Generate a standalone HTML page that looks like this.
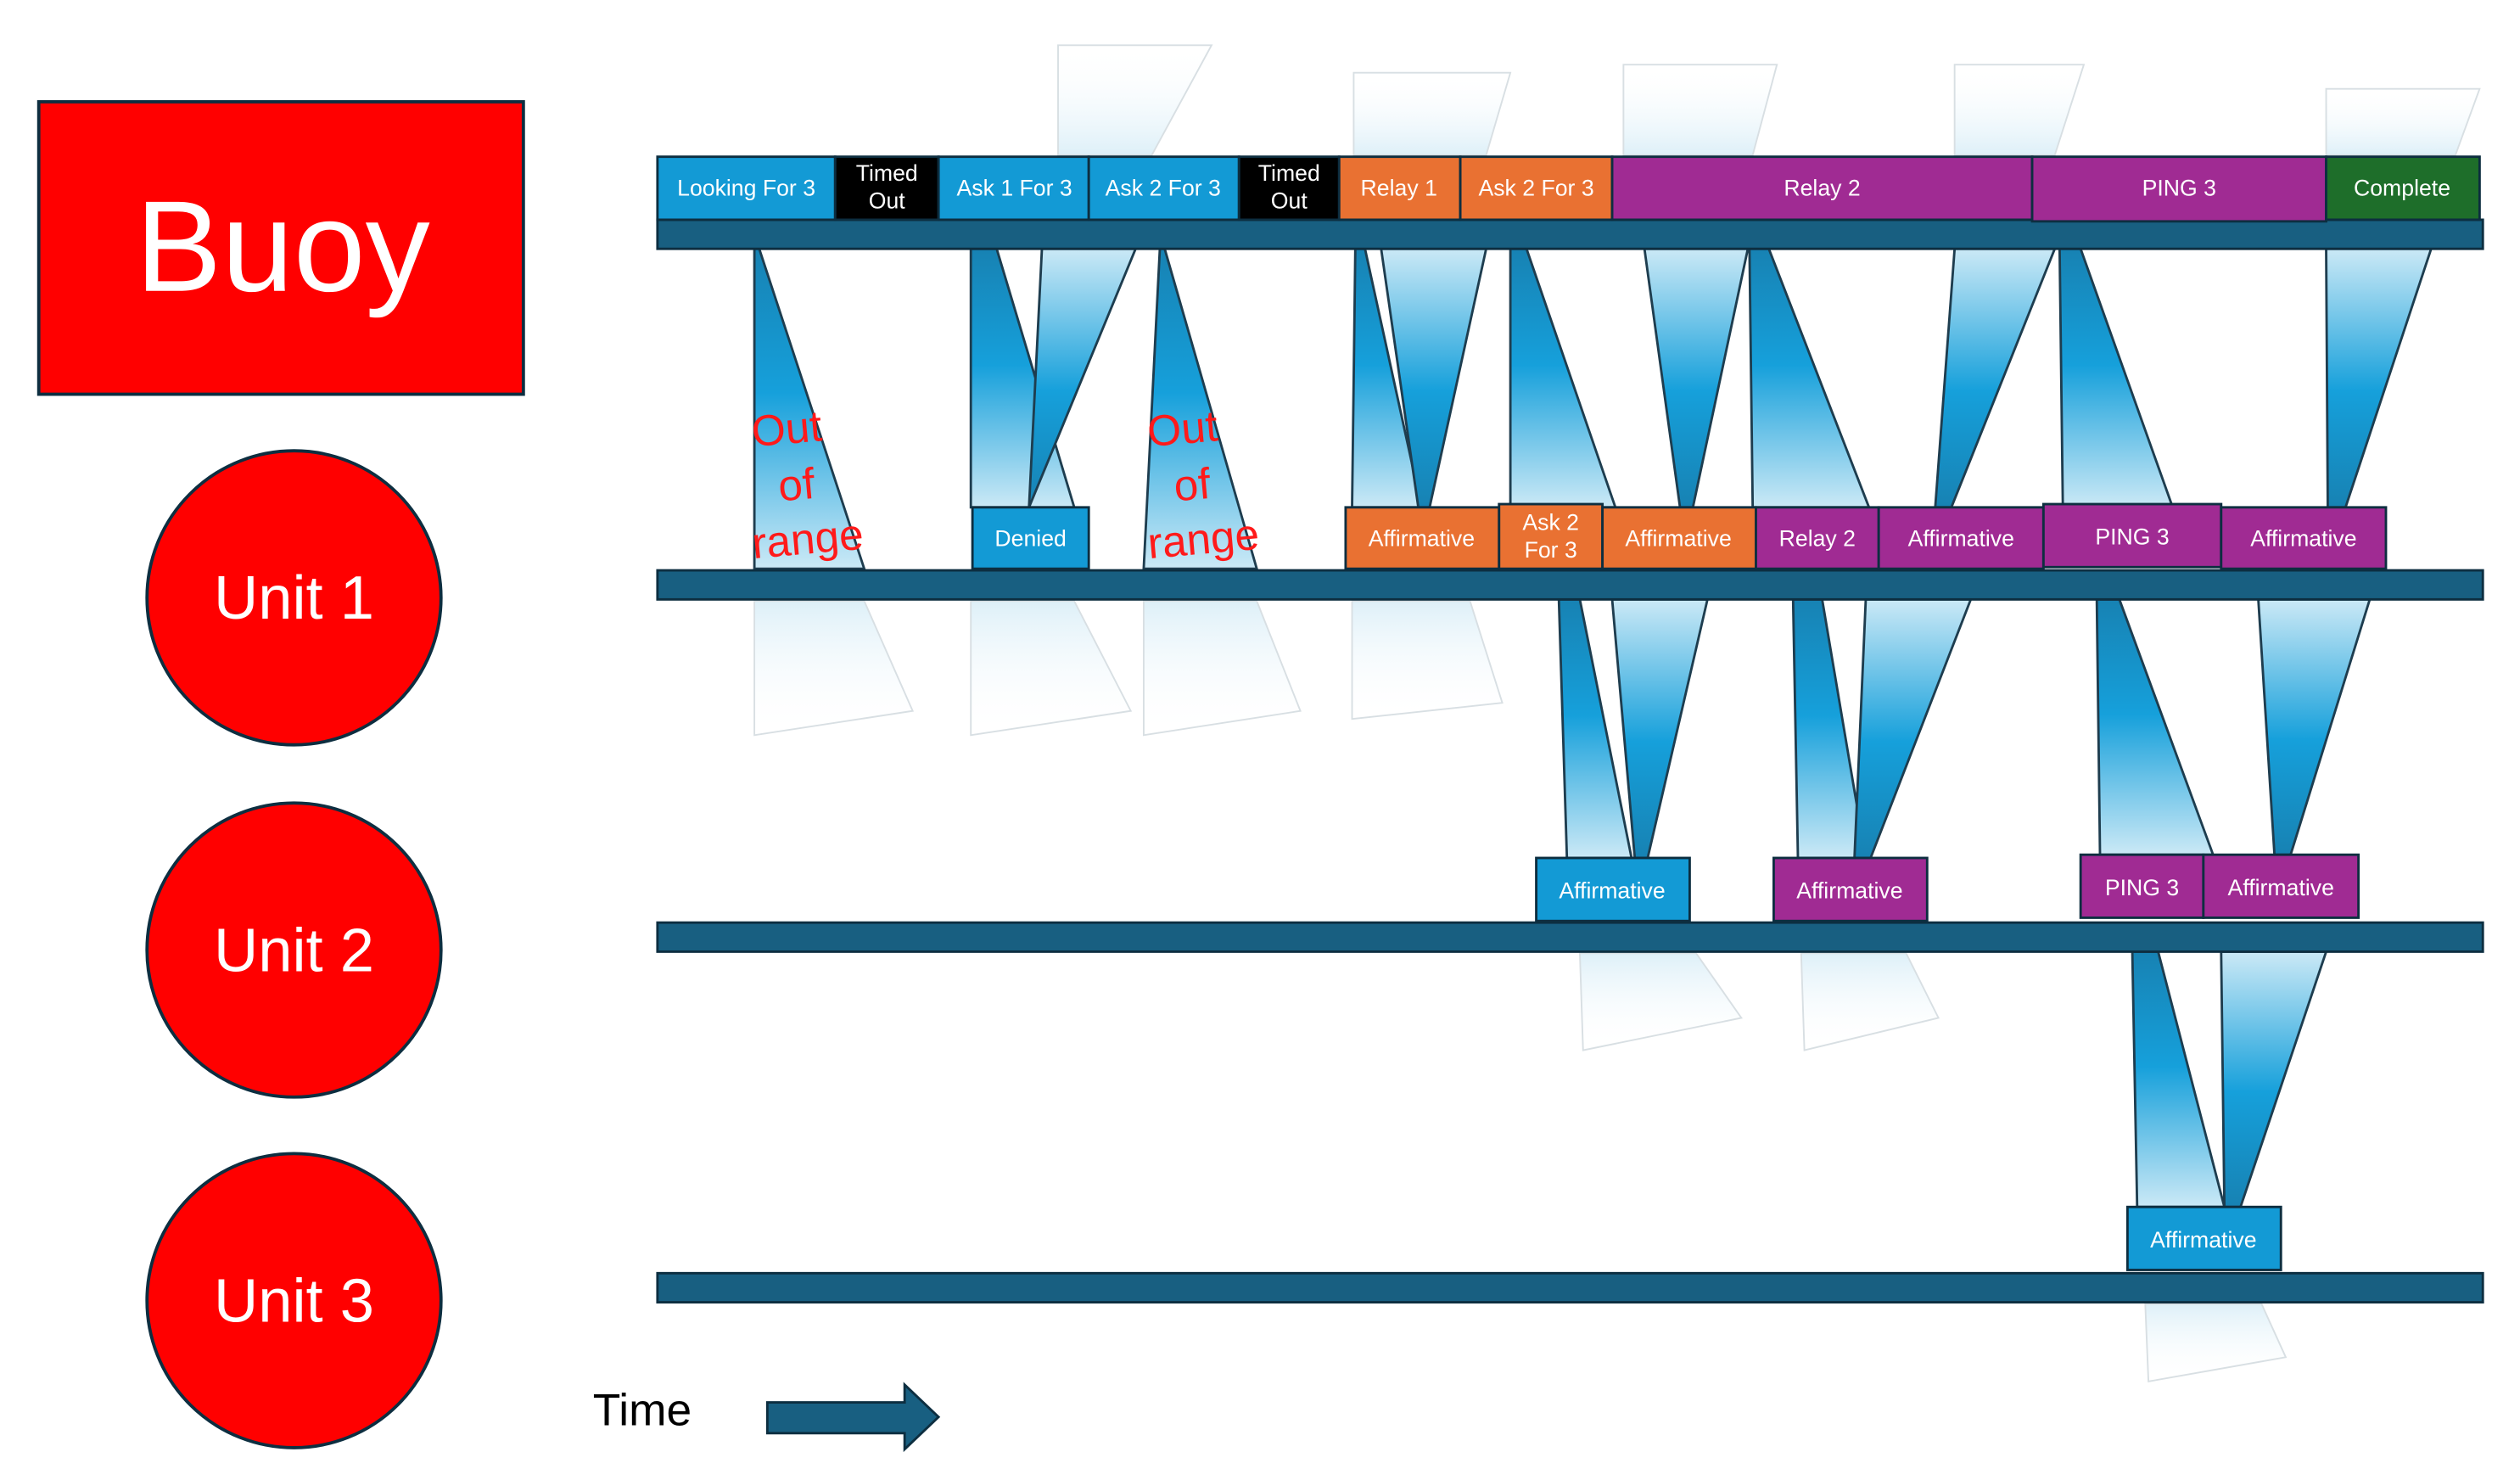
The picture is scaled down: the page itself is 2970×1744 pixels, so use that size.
<!DOCTYPE html>
<html><head><meta charset="utf-8"><style>
html,body{margin:0;padding:0;background:#fff;}
svg{display:block;}
text{font-family:"Liberation Sans",sans-serif;}
</style></head><body>
<svg width="2970" height="1744" viewBox="0 0 1560 916" preserveAspectRatio="none" xmlns="http://www.w3.org/2000/svg">
<defs>
<linearGradient id="dn" x1="0" y1="0" x2="0" y2="1">
<stop offset="0" stop-color="#1782b3"/><stop offset="0.45" stop-color="#16a0db"/><stop offset="1" stop-color="#cbe9f6"/>
</linearGradient>
<linearGradient id="up" x1="0" y1="1" x2="0" y2="0">
<stop offset="0" stop-color="#1782b3"/><stop offset="0.45" stop-color="#16a0db"/><stop offset="1" stop-color="#cbe9f6"/>
</linearGradient>
<linearGradient id="fd" x1="0" y1="0" x2="0" y2="1">
<stop offset="0" stop-color="#cfe9f5" stop-opacity="0.7"/><stop offset="1" stop-color="#ffffff" stop-opacity="0"/>
</linearGradient>
<linearGradient id="fu" x1="0" y1="1" x2="0" y2="0">
<stop offset="0" stop-color="#cfe9f5" stop-opacity="0.7"/><stop offset="1" stop-color="#ffffff" stop-opacity="0"/>
</linearGradient>
</defs>

<!-- faint reflections above top bar -->
<g stroke="#d8dfe3" stroke-width="1">
<polygon points="655,96 713,96 750,28 655,28" fill="url(#fu)"/>
<polygon points="838,96 920,96 935,45 838,45" fill="url(#fu)"/>
<polygon points="1005,96 1085,96 1100,40 1005,40" fill="url(#fu)"/>
<polygon points="1210,96 1272,96 1290,40 1210,40" fill="url(#fu)"/>
<polygon points="1440,96 1520,96 1535,55 1440,55" fill="url(#fu)"/>
</g>
<!-- faint reflections below bars -->
<g stroke="#d8dfe3" stroke-width="1">
<polygon points="467,372 535,372 565,440 467,455" fill="url(#fd)"/>
<polygon points="601,372 665,372 700,440 601,455" fill="url(#fd)"/>
<polygon points="708,372 778,372 805,440 708,455" fill="url(#fd)"/>
<polygon points="837,372 910,372 930,435 837,445" fill="url(#fd)"/>
<polygon points="978,590 1050,590 1078,630 980,650" fill="url(#fd)"/>
<polygon points="1115,590 1180,590 1200,630 1117,650" fill="url(#fd)"/>
<polygon points="1328,807 1400,807 1415,840 1330,855" fill="url(#fd)"/>
</g>

<!-- beams top -> unit1 -->
<g stroke="#1e3d4f" stroke-width="1.5">
<polygon points="467,154 470,154 535,352 467,352" fill="url(#dn)"/>
<polygon points="601,154 617,154 665,314 601,314" fill="url(#dn)"/>
<polygon points="645,154 703,154 637,314" fill="url(#up)"/>
<polygon points="718,154 721,154 778,352 708,352" fill="url(#dn)"/>
<polygon points="839,154 845,154 880,314 837,314" fill="url(#dn)"/>
<polygon points="855,154 920,154 885,314 878,314" fill="url(#up)"/>
<polygon points="935,154 945,154 1000,314 935,314" fill="url(#dn)"/>
<polygon points="1018,154 1082,154 1048,314 1040,314" fill="url(#up)"/>
<polygon points="1083,154 1095,154 1157,314 1085,314" fill="url(#dn)"/>
<polygon points="1210,154 1272,154 1208,314 1198,314" fill="url(#up)"/>
<polygon points="1275,154 1288,154 1345,314 1277,314" fill="url(#dn)"/>
<polygon points="1440,154 1505,154 1452,314 1441,314" fill="url(#up)"/>
</g>
<!-- beams unit1 -> unit2 -->
<g stroke="#1e3d4f" stroke-width="1.5">
<polygon points="965,371 978,371 1010,531 970,531" fill="url(#dn)"/>
<polygon points="998,371 1057,371 1020,531 1012,531" fill="url(#up)"/>
<polygon points="1110,371 1128,371 1155,531 1113,531" fill="url(#dn)"/>
<polygon points="1155,371 1220,371 1158,531 1148,531" fill="url(#up)"/>
<polygon points="1298,371 1312,371 1370,529 1300,529" fill="url(#dn)"/>
<polygon points="1398,371 1467,371 1418,529 1408,529" fill="url(#up)"/>
</g>
<!-- beams unit2 -> unit3 -->
<g stroke="#1e3d4f" stroke-width="1.5">
<polygon points="1320,589 1336,589 1377,747 1323,747" fill="url(#dn)"/>
<polygon points="1375,589 1440,589 1387,747 1377,747" fill="url(#up)"/>
</g>

<!-- bars -->
<g fill="#185f81" stroke="#0d2e40" stroke-width="1.5">
<rect x="407" y="136" width="1130" height="18"/>
<rect x="407" y="353" width="1130" height="18"/>
<rect x="407" y="571" width="1130" height="18"/>
<rect x="407" y="788" width="1130" height="18"/>
</g>

<!-- top boxes -->
<g stroke="#0d2e40" stroke-width="1.5">
<rect x="407" y="97" width="110" height="39" fill="#139ad5"/>
<rect x="517" y="97" width="64" height="39" fill="#000"/>
<rect x="581" y="97" width="93" height="39" fill="#139ad5"/>
<rect x="674" y="97" width="93" height="39" fill="#139ad5"/>
<rect x="767" y="97" width="62" height="39" fill="#000"/>
<rect x="829" y="97" width="75" height="39" fill="#e97132"/>
<rect x="904" y="97" width="94" height="39" fill="#e97132"/>
<rect x="998" y="97" width="260" height="39" fill="#a02b93"/>
<rect x="1258" y="97" width="182" height="40" fill="#a02b93"/>
<rect x="1440" y="97" width="95" height="39" fill="#1e6e2a"/>
</g>
<g fill="#fff" font-size="14" text-anchor="middle">
<text x="462" y="121">Looking For 3</text>
<text x="549" y="112">Timed</text><text x="549" y="129">Out</text>
<text x="628" y="121">Ask 1 For 3</text>
<text x="720" y="121">Ask 2 For 3</text>
<text x="798" y="112">Timed</text><text x="798" y="129">Out</text>
<text x="866" y="121">Relay 1</text>
<text x="951" y="121">Ask 2 For 3</text>
<text x="1128" y="121">Relay 2</text>
<text x="1349" y="121">PING 3</text>
<text x="1487" y="121">Complete</text>
</g>

<!-- unit1 row -->
<g stroke="#0d2e40" stroke-width="1.5">
<rect x="602" y="314" width="72" height="38" fill="#139ad5"/>
<rect x="833" y="314" width="95" height="38" fill="#e97132"/>
<rect x="928" y="312" width="64" height="40" fill="#e97132"/>
<rect x="992" y="314" width="95" height="38" fill="#e97132"/>
<rect x="1087" y="314" width="76" height="38" fill="#a02b93"/>
<rect x="1163" y="314" width="102" height="38" fill="#a02b93"/>
<rect x="1265" y="312" width="110" height="39" fill="#a02b93"/>
<rect x="1375" y="314" width="102" height="38" fill="#a02b93"/>
</g>
<g fill="#fff" font-size="14" text-anchor="middle">
<text x="638" y="338">Denied</text>
<text x="880" y="338">Affirmative</text>
<text x="960" y="328">Ask 2</text><text x="960" y="345">For 3</text>
<text x="1039" y="338">Affirmative</text>
<text x="1125" y="338">Relay 2</text>
<text x="1214" y="338">Affirmative</text>
<text x="1320" y="337">PING 3</text>
<text x="1426" y="338">Affirmative</text>
</g>

<!-- unit2 row -->
<g stroke="#0d2e40" stroke-width="1.5">
<rect x="951" y="531" width="95" height="39" fill="#139ad5"/>
<rect x="1098" y="531" width="95" height="39" fill="#a02b93"/>
<rect x="1288" y="529" width="76" height="39" fill="#a02b93"/>
<rect x="1364" y="529" width="96" height="39" fill="#a02b93"/>
</g>
<g fill="#fff" font-size="14" text-anchor="middle">
<text x="998" y="556">Affirmative</text>
<text x="1145" y="556">Affirmative</text>
<text x="1326" y="554">PING 3</text>
<text x="1412" y="554">Affirmative</text>
</g>

<!-- unit3 row -->
<rect x="1317" y="747" width="95" height="39" fill="#139ad5" stroke="#0d2e40" stroke-width="1.5"/>
<text x="1364" y="772" fill="#fff" font-size="14" text-anchor="middle">Affirmative</text>

<!-- out of range -->
<g fill="#ff1a1a" font-size="27" text-anchor="middle">
<g transform="rotate(-5 495 300)">
<text x="490" y="274">Out</text><text x="493" y="309">of</text><text x="497" y="343">range</text>
</g>
<g transform="rotate(-5 740 300)">
<text x="735" y="274">Out</text><text x="738" y="309">of</text><text x="742" y="343">range</text>
</g>
</g>

<!-- left entities -->
<rect x="24" y="63" width="300" height="181" fill="#ff0000" stroke="#0d2e40" stroke-width="2"/>
<text x="175" y="180" fill="#fff" font-size="80" text-anchor="middle">Buoy</text>
<g fill="#ff0000" stroke="#0d2e40" stroke-width="2">
<circle cx="182" cy="370" r="91"/>
<circle cx="182" cy="588" r="91"/>
<circle cx="182" cy="805" r="91"/>
</g>
<g fill="#fff" font-size="38" text-anchor="middle">
<text x="182" y="383">Unit 1</text>
<text x="182" y="601">Unit 2</text>
<text x="182" y="818">Unit 3</text>
</g>

<!-- time -->
<text x="367" y="882" font-size="28" fill="#000">Time</text>
<polygon points="475,868 560,868 560,857 581,877 560,897 560,887 475,887" fill="#185f81" stroke="#0d2e40" stroke-width="1.5"/>
</svg>
</body></html>
